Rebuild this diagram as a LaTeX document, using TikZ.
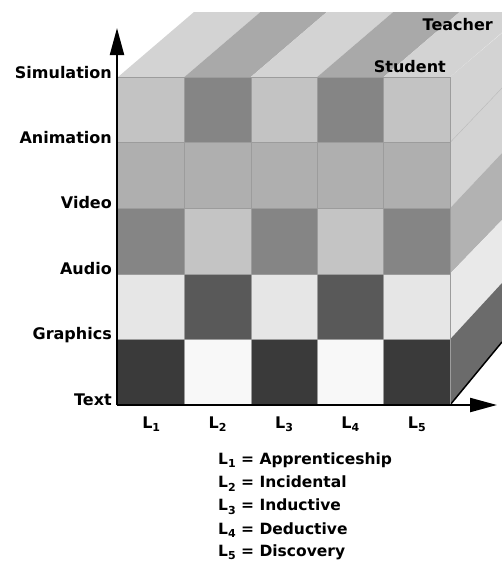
\documentclass[tikz,border=0pt]{standalone}
\usepackage{fontspec}
\setmainfont{DejaVu Sans}
\usetikzlibrary{arrows.meta}
\newcommand\lsub[1]{\raisebox{-3.5pt}{\fontsize{11}{12}\selectfont #1}}
\definecolor{topL}{HTML}{D3D3D3}
\definecolor{topD}{HTML}{A9A9A9}
\definecolor{rA}{HTML}{C3C3C3}
\definecolor{rB}{HTML}{858585}
\definecolor{rC}{HTML}{AFAFAF}
\definecolor{rD}{HTML}{C4C4C4}
\definecolor{rE}{HTML}{E6E6E6}
\definecolor{rF}{HTML}{595959}
\definecolor{rG}{HTML}{3A3A3A}
\definecolor{rH}{HTML}{F8F8F8}
\definecolor{sideA}{HTML}{D3D3D3}
\definecolor{sideB}{HTML}{B2B2B2}
\definecolor{sideC}{HTML}{E9E9E9}
\definecolor{sideD}{HTML}{6B6B6B}
\definecolor{gridc}{HTML}{9C9C9C}
\begin{document}
\begin{tikzpicture}[x=1pt,y=-1pt,
  lab/.style={font=\fontsize{16}{18}\selectfont\bfseries, inner sep=0pt},
  leg/.style={font=\fontsize{15.5}{18}\selectfont\bfseries, inner sep=0pt, anchor=base west},
  axis/.style={line width=2.2pt, -{Triangle[length=27pt,width=14pt]}},
  gridline/.style={gridc, line width=0.6pt}]
\useasboundingbox (0,0) rectangle (502,565);
\begin{scope}
\clip (0,0) rectangle (502,565);
% top face stripes
\foreach \i/\c in {0/topL,1/topD,2/topL,3/topD,4/topL}{
  \fill[\c] ({118+66.4*\i},77) -- ({118+66.4*(\i+1)},77) -- ({194+66.4*(\i+1)},12) -- ({194+66.4*\i},12) -- cycle;
}
% right face bands
\fill[sideA] (450,77) -- (450,208.2) -- (502,153) -- (502,33) -- cycle;
\fill[sideB] (450,208.2) -- (450,273.8) -- (502,220) -- (502,153) -- cycle;
\fill[sideC] (450,273.8) -- (450,339.4) -- (502,283) -- (502,220) -- cycle;
\fill[sideD] (450,339.4) -- (450,405) -- (502,342) -- (502,283) -- cycle;
\draw[gridc!70, line width=0.4pt] (450,142.6) -- (502,88);
\draw[black, line width=1.5pt] (450,405) -- (502,342);
\end{scope}
% front face cells
\foreach \r/\a/\b in {0/rA/rB,1/rC/rC,2/rB/rD,3/rE/rF,4/rG/rH}{
  \foreach \k in {0,...,4}{
    \pgfmathtruncatemacro{\odd}{mod(\k,2)}
    \ifnum\odd=0 \def\cc{\a}\else\def\cc{\b}\fi
    \fill[\cc] ({118+66.4*\k},{77+65.6*\r}) rectangle ({118+66.4*(\k+1)},{77+65.6*(\r+1)});
  }
}
% grid lines
\foreach \k in {1,...,5}{
  \draw[gridline] ({118+66.4*\k},77) -- ({118+66.4*\k},405);
}
\foreach \r in {0,...,4}{
  \draw[gridline] (118,{77+65.6*\r}) -- (450,{77+65.6*\r});
}
% axes
\coordinate (O) at (117,405);
\coordinate (Ytip) at (117,28);
\coordinate (Xtip) at (497,405);
\draw[axis] (O) -- (Ytip);
\draw[axis] (O) -- (Xtip);
% row labels
\node[lab, anchor=base east] (sim) at (112,78) {Simulation};
\node[lab, anchor=base east] (ani) at (112,143) {Animation};
\node[lab, anchor=base east] (vid) at (112,208) {Video};
\node[lab, anchor=base east] (aud) at (112,274) {Audio};
\node[lab, anchor=base east] (gra) at (112,339) {Graphics};
\node[lab, anchor=base east] (txt) at (112,405) {Text};
% column labels
\foreach \k in {1,...,5}{
  \node[lab, anchor=base] (L\k) at ({118+66.4*(\k-0.5)},428) {L\lsub{\k}};
}
% top labels
\node[lab, anchor=base east] (teacher) at (493,30) {Teacher};
\node[lab, anchor=base east] (student) at (446,72) {Student};
% legend
\node[leg] (g1) at (218,464) {L\lsub{1} = Apprenticeship};
\node[leg] (g2) at (218,487.5) {L\lsub{2} = Incidental};
\node[leg] (g3) at (218,510.5) {L\lsub{3} = Inductive};
\node[leg] (g4) at (218,534) {L\lsub{4} = Deductive};
\node[leg] (g5) at (218,556) {L\lsub{5} = Discovery};
\end{tikzpicture}
\end{document}
